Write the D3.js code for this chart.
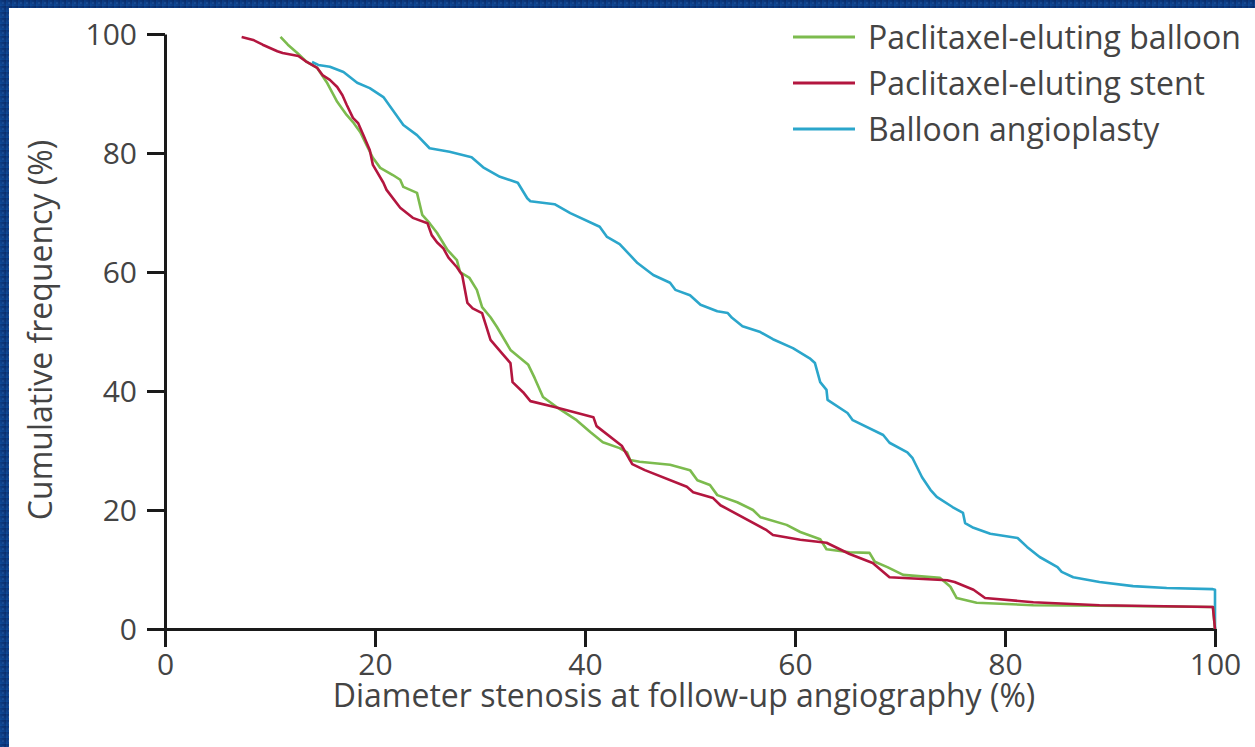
<!DOCTYPE html>
<html>
<head>
<meta charset="utf-8">
<script src="https://d3js.org/d3.v7.min.js"></script>
<style>
  body { margin: 0; padding: 0; background: #0b3a80; }
  text { font-family: "Open Sans", "Noto Sans", sans-serif; fill: #444444; }
</style>
</head>
<body>
<div id="chart"></div>
<script>

// cumulative frequency curves, [diameter stenosis %, cumulative frequency %]
var balloonPoints = [
  [11.0,99.5],[11.7,98.2],[12.6,96.8],[13.5,95.3],[14.5,94.3],[15.4,91.9],[16.4,88.6],
  [17.3,86.4],[17.9,85.2],[18.6,83.5],[19.2,81.3],[19.8,79.2],[20.5,77.5],[21.7,76.3],
  [22.4,75.5],[22.7,74.3],[24.0,73.3],[24.5,69.6],[25.2,68.2],[25.9,66.6],[26.9,63.7],
  [27.8,62.0],[28.1,60.0],[29.0,59.0],[29.7,57.0],[30.2,54.1],[31.0,52.4],[31.6,50.8],
  [32.9,46.9],[34.6,44.4],[35.2,42.2],[36.0,39.0],[37.3,37.3],[39.2,35.1],[40.5,33.1],
  [41.7,31.4],[43.3,30.4],[44.0,29.7],[44.3,28.4],[45.2,28.1],[48.1,27.6],[50.0,26.7],
  [50.7,25.0],[51.9,24.2],[52.6,22.5],[54.5,21.3],[56.0,20.0],[56.7,18.8],[59.2,17.5],
  [60.5,16.3],[62.4,15.1],[63.0,13.4],[65.2,12.9],[67.1,12.8],[67.6,11.3],[68.8,10.4],
  [70.3,9.1],[73.8,8.6],[74.8,7.1],[75.4,5.2],[77.3,4.4],[82.7,4.0],[89.0,3.9],
  [99.8,3.7],[100,0]
];

var stentPoints = [
  [7.3,99.5],[8.4,99.0],[9.3,98.2],[10.7,97.1],[11.2,96.8],[12.7,96.3],[13.5,95.3],
  [14.5,94.3],[15.0,93.1],[15.7,92.3],[16.4,91.1],[16.9,89.7],[17.3,88.1],[17.9,85.9],
  [18.4,85.0],[18.9,83.0],[19.5,80.5],[19.8,78.0],[20.8,75.0],[21.1,73.8],[22.4,70.8],
  [23.6,69.1],[25.0,68.2],[25.4,66.2],[25.9,65.0],[26.5,64.0],[27.0,62.4],[27.8,60.8],
  [28.3,59.5],[28.8,54.8],[29.3,53.9],[30.2,53.1],[30.5,51.4],[31.0,48.6],[32.2,46.1],
  [32.9,44.7],[33.1,41.5],[34.1,39.8],[34.8,38.3],[37.1,37.3],[40.8,35.6],[41.1,34.1],
  [43.5,30.8],[44.5,27.7],[45.7,26.7],[49.7,23.9],[50.3,23.0],[52.2,22.0],[52.9,20.8],
  [57.3,16.6],[57.9,15.8],[60.5,15.0],[63.0,14.5],[65.2,12.6],[67.4,11.1],[69.0,8.7],
  [74.5,8.2],[75.2,7.9],[77.0,6.6],[78.1,5.2],[82.7,4.5],[89.0,4.0],[99.8,3.7],[100,0]
];

var angioplastyPoints = [
  [14.0,95.3],[14.6,94.8],[15.7,94.5],[17.0,93.6],[18.3,91.8],[19.5,90.9],[20.8,89.4],
  [21.7,87.2],[22.7,84.7],[24.0,83.0],[25.2,80.8],[27.1,80.2],[29.2,79.3],[30.3,77.6],
  [31.9,76.0],[33.6,75.0],[34.5,72.4],[34.8,71.9],[37.1,71.4],[38.6,69.9],[41.4,67.6],
  [42.1,65.9],[43.3,64.7],[45.0,61.5],[46.5,59.5],[48.1,58.2],[48.6,57.0],[50.0,56.1],
  [51.0,54.5],[52.6,53.4],[53.6,53.1],[54.0,52.3],[55.0,50.9],[56.7,49.9],[57.9,48.7],
  [59.8,47.2],[61.4,45.5],[61.9,44.7],[62.4,41.5],[63.0,40.2],[63.1,38.5],[65.0,36.3],
  [65.5,35.1],[68.4,32.6],[69.0,31.3],[70.7,29.7],[71.2,28.7],[72.1,25.5],[72.9,23.4],
  [73.5,22.2],[75.0,20.5],[76.0,19.5],[76.2,17.8],[77.0,17.0],[78.6,16.0],[81.2,15.3],
  [82.1,13.8],[83.3,12.1],[85.0,10.4],[85.4,9.6],[86.5,8.7],[89.0,7.9],[92.2,7.2],
  [95.4,6.9],[99.8,6.7],[100,6.6],[100,0]
];

var seriesNames = ["Paclitaxel-eluting balloon", "Paclitaxel-eluting stent", "Balloon angioplasty"];
var seriesColors = ["#7cbb4e", "#b3163f", "#2ba6cb"];
var xTicks = [0, 20, 40, 60, 80, 100];
var yTicks = [0, 20, 40, 60, 80, 100];

var W = 1255, H = 747;
var margin = {top: 34, right: 40, bottom: 118, left: 165},
    width = W - margin.left - margin.right,
    height = H - margin.top - margin.bottom;

var svg = d3.select("#chart")
  .append("svg")
  .attr("width", W)
  .attr("height", H);

// blue slide background
var defs = svg.append("defs");
var grad = defs.append("linearGradient")
  .attr("id", "bg")
  .attr("x1", "0").attr("y1", "1").attr("x2", "1").attr("y2", "0");
grad.append("stop").attr("offset", "0").attr("stop-color", "#0f4c9c");
grad.append("stop").attr("offset", "1").attr("stop-color", "#0a2a66");
var pat = defs.append("pattern")
  .attr("id", "dots")
  .attr("width", 6).attr("height", 6)
  .attr("patternUnits", "userSpaceOnUse");
pat.append("rect").attr("width", 6).attr("height", 6).attr("fill", "url(#bg)");
pat.append("circle").attr("cx", 3).attr("cy", 3).attr("r", 0.8).attr("fill", "#3d6fb5").attr("opacity", 0.6);

svg.append("rect").attr("width", W).attr("height", H).attr("fill", "#0d3f88");
svg.append("rect").attr("width", W).attr("height", H).attr("fill", "url(#dots)");
svg.append("rect")
  .attr("x", 9).attr("y", 8)
  .attr("width", W - 9).attr("height", H - 8)
  .attr("fill", "#ffffff");

var g = svg.append("g")
  .attr("transform", "translate(" + margin.left + "," + margin.top + ")");

var x = d3.scaleLinear().domain([0, 100]).range([0, width]);
var y = d3.scaleLinear().domain([0, 100]).range([height, 0]);

// axes
var xAxis = g.append("g")
  .attr("transform", "translate(0," + height + ")")
  .call(d3.axisBottom(x).tickValues(xTicks).tickSize(18).tickSizeOuter(0).tickPadding(7));
var yAxis = g.append("g")
  .call(d3.axisLeft(y).tickValues(yTicks).tickSize(18).tickSizeOuter(0).tickPadding(10));

[xAxis, yAxis].forEach(function(ax) {
  ax.select(".domain").attr("stroke", "#1a1a1a").attr("stroke-width", 3);
  ax.selectAll(".tick line").attr("stroke", "#1a1a1a").attr("stroke-width", 3);
  ax.selectAll(".tick text")
    .style("font-family", "'Open Sans', sans-serif")
    .style("font-size", "30px")
    .attr("fill", "#444444");
});
yAxis.selectAll(".tick text").attr("dy", "0.36em");

// curves
var line = d3.line()
  .x(function(d) { return x(d[0]); })
  .y(function(d) { return y(d[1]); });

var allSeries = [balloonPoints, stentPoints, angioplastyPoints];
// draw angioplasty first, then balloon, then stent on top
[2, 0, 1].forEach(function(i) {
  g.append("path")
    .datum(allSeries[i])
    .attr("fill", "none")
    .attr("stroke", seriesColors[i])
    .attr("stroke-width", 2.6)
    .attr("stroke-linejoin", "round")
    .attr("d", line);
});

// legend
var legend = svg.append("g").attr("transform", "translate(793,37)");
seriesNames.forEach(function(name, i) {
  var row = legend.append("g").attr("transform", "translate(0," + (i * 46) + ")");
  row.append("line")
    .attr("x1", 0).attr("x2", 62)
    .attr("stroke", seriesColors[i])
    .attr("stroke-width", 3);
  row.append("text")
    .attr("x", 75)
    .attr("dy", "0.36em")
    .style("font-size", "32px")
    .text(name);
});

// axis titles
svg.append("text")
  .attr("x", margin.left + width / 2 - 6)
  .attr("y", 707)
  .attr("text-anchor", "middle")
  .style("font-size", "32px")
  .text("Diameter stenosis at follow-up angiography (%)");

svg.append("text")
  .attr("transform", "translate(52,330) rotate(-90)")
  .attr("text-anchor", "middle")
  .style("font-size", "32px")
  .text("Cumulative frequency (%)");

</script>
</body>
</html>
